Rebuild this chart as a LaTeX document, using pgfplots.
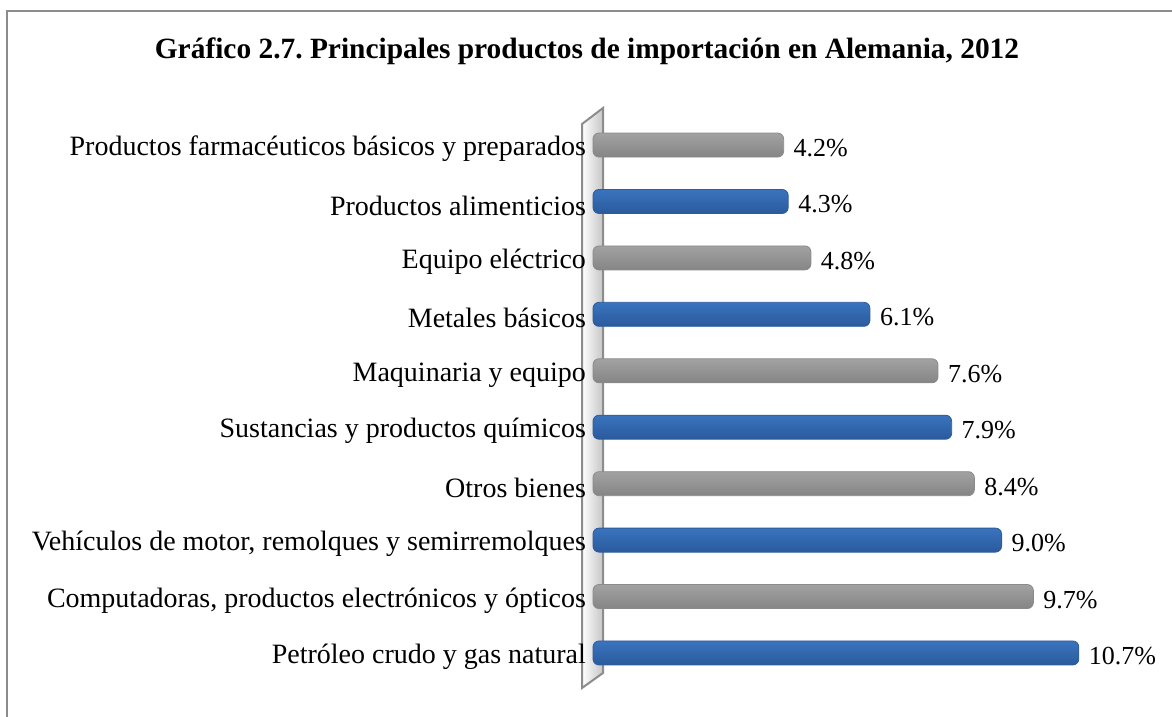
\documentclass[border=0pt]{standalone}
\usepackage{fontspec}
\setmainfont{Liberation Serif}
\usepackage{pgfplots}
\pgfplotsset{compat=1.18}
\definecolor{frame}{HTML}{8C8C8C}
\definecolor{bluetop}{HTML}{3A74BE}
\definecolor{bluemid}{HTML}{5196E6}
\definecolor{bluebot}{HTML}{2A5A9C}
\definecolor{blueedge}{HTML}{2C5C9C}
\definecolor{graytop}{HTML}{A2A2A2}
\definecolor{graymid}{HTML}{C4C4C4}
\definecolor{graybot}{HTML}{858585}
\definecolor{grayedge}{HTML}{8A8A8A}
\pgfplotsset{
  bluebar/.style={rounded corners=3pt, top color=bluetop, middle color=bluemid, bottom color=bluebot, draw=blueedge, line width=0.4pt},
  graybar/.style={rounded corners=3pt, top color=graytop, middle color=graymid, bottom color=graybot, draw=grayedge, line width=0.4pt},
}
\begin{document}
\frenchspacing
\begin{tikzpicture}[x=1pt,y=1pt]
\useasboundingbox (0,0) rectangle (586,-358.5);
\begin{scope}
\clip (0,0) rectangle (586,-358.5);
\draw[frame, line width=1pt] (3.25,-370) -- (3.25,-5.75) -- (600,-5.75);
\end{scope}
\node[font=\fontsize{14.7}{18}\selectfont\bfseries] at (293.5,-25.5)
  {Gráfico 2.7. Principales productos de importación en Alemania, 2012};
% wall
\shade[left color=white, right color=gray!45] (291,-62) -- (301.5,-54) -- (301.5,-336.5) -- (291,-344) -- cycle;
\draw[frame, line width=1pt] (291,-62) -- (301.5,-54) -- (301.5,-336.5) -- (291,-344) -- cycle;
\begin{axis}[
  at={(296.5pt,-340.6pt)}, anchor=south west,
  scale only axis, width=272.4pt, height=282.2pt,
  xmin=0, xmax=12, ymin=-0.5, ymax=9.5,
  xbar, bar width=12pt, bar shift=0pt,
  hide x axis,
  axis y line*=left, y axis line style={draw=none},
  ytick={0,...,9}, major tick length=0pt,
  yticklabels={Petróleo crudo y gas natural,
    {Computadoras, productos electrónicos y ópticos},
    {Vehículos de motor, remolques y semirremolques},
    Otros bienes,
    Sustancias y productos químicos,
    Maquinaria y equipo,
    Metales básicos,
    Equipo eléctrico,
    Productos alimenticios,
    Productos farmacéuticos básicos y preparados},
  yticklabel style={font=\fontsize{14}{16}\selectfont, yshift=-2pt},
  clip=false,
  /pgf/number format/.cd, fixed, fixed zerofill, precision=1, assume math mode=true,
  /pgfplots/.cd,
  nodes near coords={\pgfmathprintnumber{\pgfplotspointmeta}\%},
  nodes near coords style={font=\fontsize{13}{15}\selectfont, anchor=west, xshift=1.5pt, yshift=-1.5pt, text=black},
]
\addplot[bluebar] coordinates {(10.7,0)};
\addplot[graybar] coordinates {(9.7,1)};
\addplot[bluebar] coordinates {(9.0,2)};
\addplot[graybar] coordinates {(8.4,3)};
\addplot[bluebar] coordinates {(7.9,4)};
\addplot[graybar] coordinates {(7.6,5)};
\addplot[bluebar] coordinates {(6.1,6)};
\addplot[graybar] coordinates {(4.8,7)};
\addplot[bluebar] coordinates {(4.3,8)};
\addplot[graybar] coordinates {(4.2,9)};
\end{axis}
\end{tikzpicture}
\end{document}
